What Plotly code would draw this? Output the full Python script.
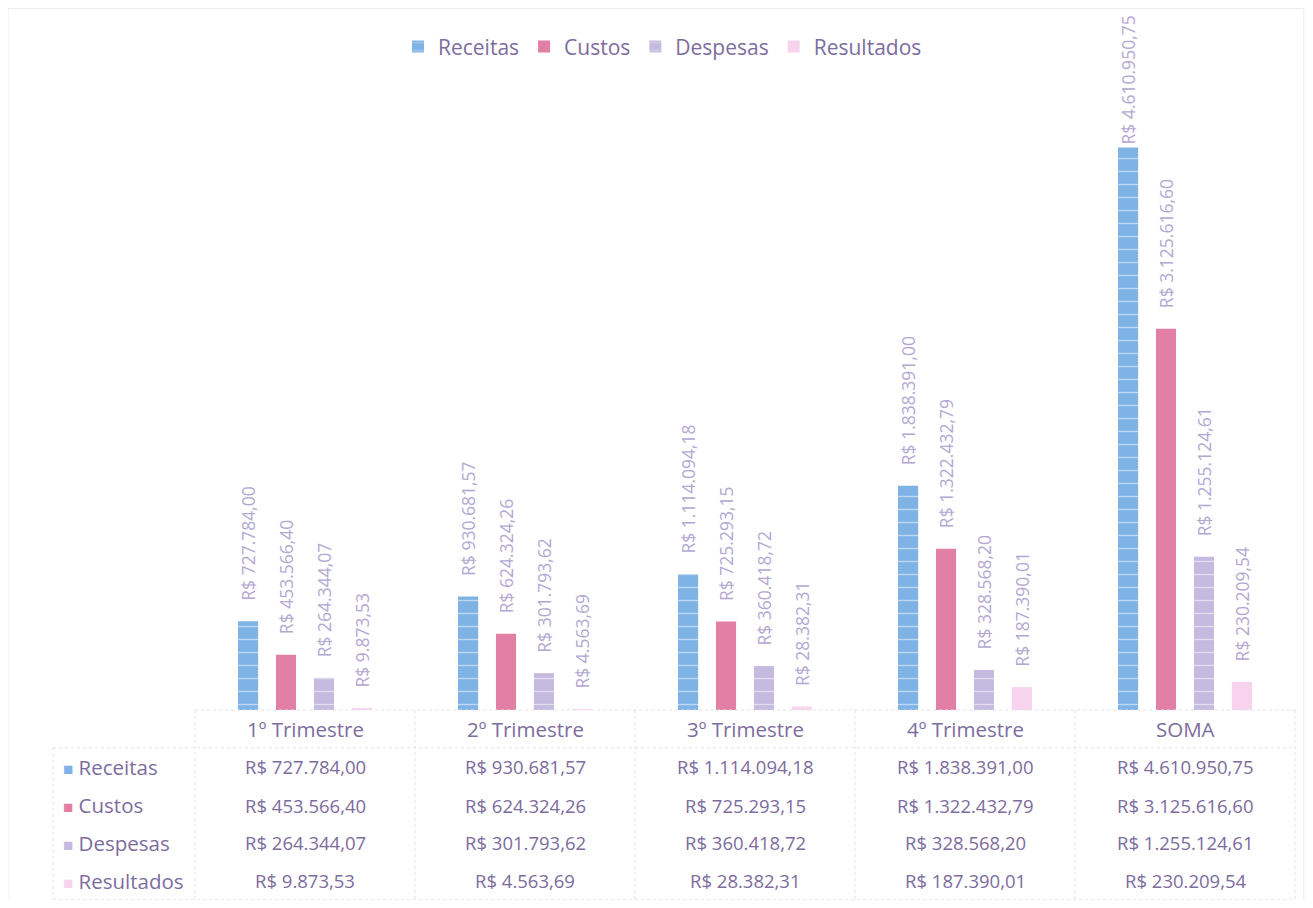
import plotly.graph_objects as go

categories = ["1º Trimestre", "2º Trimestre", "3º Trimestre", "4º Trimestre", "SOMA"]
series_names = ["Receitas", "Custos", "Despesas", "Resultados"]
receitas = [727784.00, 930681.57, 1114094.18, 1838391.00, 4610950.75]
custos = [453566.40, 624324.26, 725293.15, 1322432.79, 3125616.60]
despesas = [264344.07, 301793.62, 360418.72, 328568.20, 1255124.61]
resultados = [9873.53, 4563.69, 28382.31, 187390.01, 230209.54]
values = [receitas, custos, despesas, resultados]

colors = ["#7fb3e6", "#e27fa4", "#c5badf", "#f7d3ee"]
patterns = ["-", "", "-", ""]
label_color = "#b4a8d3"
text_color = "#7d6c9e"
font_family = "'Open Sans', Lato, sans-serif"


def brl(v):
    s = f"{v:,.2f}"
    s = s.replace(",", "X").replace(".", ",").replace("X", ".")
    return "R$ " + s


max_val = max(receitas)
fig = go.Figure()
for name, vals, col, pat in zip(series_names, values, colors, patterns):
    labels = [brl(v) if v == max_val else "\u2002\u2002" + brl(v) for v in vals]
    fig.add_trace(go.Bar(
        name=name, x=categories, y=vals,
        marker=dict(color=col, line=dict(width=0),
                    pattern=dict(shape=pat, fgcolor="white", bgcolor=col,
                                 size=13, solidity=0.1, fillmode="overlay")),
        text=labels, textposition="outside", textangle=-90,
        textfont=dict(color=label_color, size=17.5, family=font_family),
        constraintext="none", cliponaxis=False,
    ))

# data table below plot (annotations positioned by category axis)
row_y = [-0.0934, -0.156, -0.218, -0.280]
header_y = -0.0311
tfont = dict(size=18.5, color=text_color, family=font_family)
wfont = dict(size=20.5, color=text_color, family=font_family)
annotations = []
for i, cat in enumerate(categories):
    annotations.append(dict(x=cat, y=header_y, xref="x", yref="paper", text=cat,
                            yanchor="middle", showarrow=False, font=wfont))
    for r, vals in enumerate(values):
        annotations.append(dict(x=cat, y=row_y[r], xref="x", yref="paper", text=brl(vals[i]),
                                yanchor="middle", showarrow=False, font=tfont))
for r, name in enumerate(series_names):
    annotations.append(dict(x=-0.122, y=row_y[r], xref="paper", yref="paper", xanchor="left",
                            yanchor="middle",
                            text=f"<span style='color:{colors[r]};font-size:17px'>■</span> {name}",
                            showarrow=False, font=wfont))

grid = "#e2e2e2"
shapes = []
shapes.append(dict(type="line", xref="paper", yref="paper", x0=0.0, x1=1.0, y0=0.0, y1=0.0,
                   line=dict(color=grid, width=1, dash="dot")))
for yy in [-0.062, -0.311]:
    shapes.append(dict(type="line", xref="paper", yref="paper", x0=-0.129, x1=1.0, y0=yy, y1=yy,
                       line=dict(color=grid, width=1, dash="dot")))
shapes.append(dict(type="line", xref="paper", yref="paper", x0=-0.129, x1=-0.129, y0=-0.062, y1=-0.311,
                   line=dict(color=grid, width=1, dash="dot")))
for k in range(len(categories) + 1):
    xx = k / len(categories)
    shapes.append(dict(type="line", xref="paper", yref="paper", x0=xx, x1=xx, y0=0.0, y1=-0.311,
                       line=dict(color=grid, width=1, dash="dot")))
# outer chart border
shapes.append(dict(type="rect", xref="paper", yref="paper", x0=-0.170, x1=1.008, y0=-0.318, y1=1.150,
                   line=dict(color="#ececec", width=1)))

fig.update_layout(
    width=1297, height=892,
    margin=dict(l=187, r=10, t=92, b=190),
    paper_bgcolor="white", plot_bgcolor="white",
    barmode="group", bargap=0.31, bargroupgap=0.47,
    font=dict(family=font_family, color=text_color),
    showlegend=True,
    legend=dict(orientation="h", x=0.425, y=1.087, xanchor="center", yanchor="middle",
                font=dict(size=21, color=text_color, family=font_family),
                itemwidth=30, tracegroupgap=0),
    xaxis=dict(showticklabels=False, showgrid=False, zeroline=False, showline=False),
    yaxis=dict(range=[0, 5000000], visible=False, showgrid=False, zeroline=False),
    annotations=annotations, shapes=shapes,
)

fig.write_html("out.html")
